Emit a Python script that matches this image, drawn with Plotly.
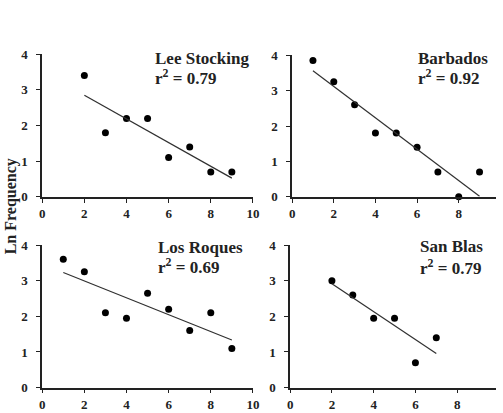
import numpy as np
import plotly.graph_objects as go

W, H = 503, 413

# ---- data ----
lee_x = [2, 3, 4, 5, 6, 7, 8, 9]
lee_y = [3.4, 1.8, 2.2, 2.2, 1.1, 1.4, 0.7, 0.7]
bar_x = [1, 2, 3, 4, 5, 6, 7, 8, 9]
bar_y = [3.85, 3.25, 2.6, 1.8, 1.8, 1.4, 0.7, 0.0, 0.7]
los_x = [1, 2, 3, 4, 5, 6, 7, 8, 9]
los_y = [3.6, 3.25, 2.1, 1.95, 2.65, 2.2, 1.6, 2.1, 1.1]
san_x = [2, 3, 4, 5, 6, 7]
san_y = [3.0, 2.6, 1.95, 1.95, 0.7, 1.4]

names = ["Lee Stocking", "Barbados", "Los Roques", "San Blas"]
r2_labels = ["0.79", "0.92", "0.69", "0.79"]
tick_vals_x = [0, 2, 4, 6, 8, 10]
tick_vals_y = [0, 1, 2, 3, 4]

series = [(lee_x, lee_y), (bar_x, bar_y), (los_x, los_y), (san_x, san_y)]

# panel geometry in pixels: (x0, x1, xmax, ybottom, ytop)
panels = [
    (40, 255, 10.0, 197, 49),
    (295, 503, 9.79, 197, 50),
    (40, 255, 10.0, 395, 247),
    (293, 503, 9.86, 395, 247),
]
# label positions (left x, title center y, r2 center y) in pixels
labels_pos = [
    (153, 53, 73),
    (421, 53, 73),
    (156, 250, 269),
    (423, 249, 270),
]

serif = "Liberation Serif"

fig = go.Figure()
for i, ((xs, ys), (x0, x1, xmax, yb, yt)) in enumerate(zip(series, panels)):
    n = i + 1
    xa = "x" if n == 1 else f"x{n}"
    ya = "y" if n == 1 else f"y{n}"
    fig.add_trace(go.Scatter(x=xs, y=ys, mode="markers", xaxis=xa, yaxis=ya,
                             marker=dict(color="black", size=7),
                             showlegend=False, cliponaxis=False))
    slope, icpt = np.polyfit(xs, ys, 1)
    lx = [min(xs), max(xs)]
    ly = [icpt + slope * v for v in lx]
    fig.add_trace(go.Scatter(x=lx, y=ly, mode="lines", xaxis=xa, yaxis=ya,
                             line=dict(color="#303030", width=1.2),
                             showlegend=False, cliponaxis=False))
    axis_common = dict(showgrid=False, zeroline=False, showline=True,
                       linecolor="#222", linewidth=1.5, ticks="outside",
                       ticklen=4, tickcolor="#222", tickwidth=1.2,
                       tickfont=dict(family=serif, size=13, color="#222", weight="bold"))
    fig.update_layout(**{
        ("xaxis" if n == 1 else f"xaxis{n}"): dict(
            domain=[x0 / W, x1 / W], range=[0, xmax], anchor=ya,
            tickvals=tick_vals_x, **axis_common),
        ("yaxis" if n == 1 else f"yaxis{n}"): dict(
            domain=[1 - yb / H, 1 - yt / H], range=[0, 4], anchor=xa,
            tickvals=tick_vals_y, ticklabelstandoff=6, **axis_common),
    })
    lxp, ty, ry = labels_pos[i]
    fig.add_annotation(x=lxp / W, y=1 - ty / H, xref="paper", yref="paper",
                       text=names[i], showarrow=False, xanchor="left", yanchor="middle",
                       font=dict(family=serif, size=17, color="#222", weight="bold"))
    fig.add_annotation(x=lxp / W, y=1 - ry / H, xref="paper", yref="paper",
                       text=f"r<sup>2</sup> = {r2_labels[i]}", showarrow=False,
                       xanchor="left", yanchor="middle",
                       font=dict(family=serif, size=17, color="#222", weight="bold"))

fig.add_annotation(x=9 / W, y=1 - 207 / H, xref="paper", yref="paper",
                   text="Ln Frequency", textangle=-90, showarrow=False,
                   xanchor="center", yanchor="middle",
                   font=dict(family=serif, size=16, color="#222", weight="bold"))

fig.update_layout(width=W, height=H, margin=dict(l=0, r=0, t=0, b=0),
                  paper_bgcolor="white", plot_bgcolor="white")
fig.write_html("out.html")
